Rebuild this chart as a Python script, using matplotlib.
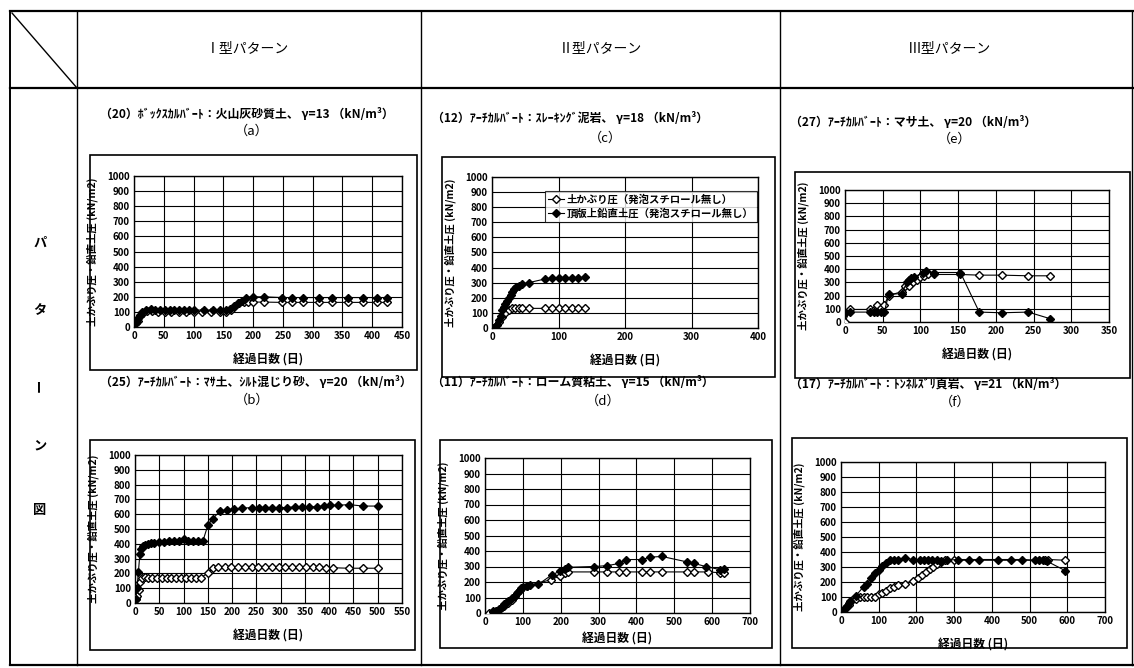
import matplotlib
matplotlib.use("Agg")
import matplotlib.pyplot as plt
from matplotlib.lines import Line2D
from matplotlib.patches import Rectangle

plt.rcParams['font.family'] = ['Noto Sans CJK JP', 'DejaVu Sans']

W, H = 1134, 668

### data ###
header_labels = ["Ⅰ型パターン", "Ⅱ型パターン", "Ⅲ型パターン"]
side_label = ["パ", "タ", "ー", "ン", "図"]
legend_labels = ["土かぶり圧（発泡スチロール無し）", "頂版上鉛直土圧（発泡スチロール無し）"]
ylabel_text = "土かぶり圧・鉛直土圧 (kN/m2)"
xlabel_text = "経過日数 (日)"

titles = {
    "a": "（20）ﾎﾞｯｸｽｶﾙﾊﾞｰﾄ：火山灰砂質土、 γ=13 （kN/m³）",
    "b": "（25）ｱｰﾁｶﾙﾊﾞｰﾄ：ﾏｻ土、ｼﾙﾄ混じり砂、 γ=20 （kN/m³）",
    "c": "（12）ｱｰﾁｶﾙﾊﾞｰﾄ：ｽﾚｰｷﾝｸﾞ泥岩、 γ=18 （kN/m³）",
    "d": "（11）ｱｰﾁｶﾙﾊﾞｰﾄ：ローム質粘土、 γ=15 （kN/m³）",
    "e": "（27）ｱｰﾁｶﾙﾊﾞｰﾄ：マサ土、 γ=20 （kN/m³）",
    "f": "（17）ｱｰﾁｶﾙﾊﾞｰﾄ：ﾄﾝﾈﾙｽﾞﾘ頁岩、 γ=21 （kN/m³）",
}
x_max = {"a": 450, "b": 550, "c": 400, "d": 700, "e": 350, "f": 700}
x_step = {"a": 50, "b": 50, "c": 100, "d": 100, "e": 50, "f": 100}

# (a)
a_load_x = [3, 5, 7, 10, 14, 20, 28, 36, 44, 52, 60, 68, 76, 84, 92, 100, 118, 132, 145, 155, 162, 168,
            175, 182, 188, 200, 218, 248, 266, 284, 310, 333, 360, 385, 408, 425]
a_load_y = [30, 45, 60, 80, 100, 115, 120, 115, 112, 110, 110, 112, 110, 110, 110, 112, 112, 110, 110, 112,
            118, 140, 160, 175, 195, 200, 200, 195, 195, 195, 195, 195, 195, 195, 195, 195]
a_cover_x = [3, 6, 10, 15, 22, 30, 40, 52, 62, 75, 88, 100, 115, 130, 145, 155, 163, 170, 177, 185, 192,
             200, 218, 248, 266, 284, 310, 333, 360, 385, 408, 425]
a_cover_y = [25, 40, 70, 95, 105, 105, 100, 100, 100, 100, 100, 100, 100, 100, 98, 100, 110, 140, 160, 165,
             165, 165, 165, 163, 163, 163, 163, 163, 163, 163, 163, 163]

# (b)
b_load_x = [2, 4, 7, 10, 13, 17, 21, 26, 32, 40, 50, 60, 70, 80, 90, 100, 110, 120, 130, 140, 150, 160,
            175, 190, 203, 220, 240, 255, 268, 282, 296, 313, 330, 344, 358, 375, 389, 402, 419, 440, 470, 500]
b_load_y = [30, 100, 210, 330, 365, 385, 395, 400, 405, 405, 410, 415, 420, 420, 420, 430, 420, 420, 420,
            420, 525, 570, 620, 630, 635, 640, 645, 645, 645, 645, 645, 645, 650, 650, 650, 650, 655, 660,
            660, 665, 655, 655]
b_cover_x = [2, 5, 8, 11, 15, 20, 27, 35, 45, 55, 65, 75, 85, 95, 105, 115, 125, 135, 150, 160, 172, 185,
             198, 212, 226, 240, 254, 268, 282, 296, 310, 324, 338, 352, 366, 380, 394, 408, 440, 470, 500]
b_cover_y = [30, 50, 90, 140, 170, 175, 172, 172, 172, 172, 172, 172, 172, 172, 172, 172, 172, 172, 200,
             235, 240, 240, 240, 240, 240, 240, 240, 240, 240, 240, 240, 240, 240, 240, 240, 240, 238, 238,
             235, 235, 235]

# (c)
c_load_x = [0, 5, 8, 10, 13, 15, 18, 20, 23, 25, 28, 30, 33, 36, 40, 45, 55, 80, 90, 100, 110, 120, 130, 140]
c_load_y = [0, 5, 20, 50, 80, 120, 140, 160, 180, 200, 220, 240, 255, 270, 280, 290, 300, 325, 330, 330,
            330, 330, 330, 335]
c_cover_x = [0, 5, 10, 15, 20, 25, 30, 35, 40, 45, 55, 80, 90, 100, 110, 120, 130, 140]
c_cover_y = [0, 5, 40, 70, 100, 120, 130, 130, 135, 130, 130, 130, 130, 130, 130, 130, 130, 130]

# (d)
d_load_x = [20, 30, 38, 45, 50, 55, 62, 70, 78, 85, 92, 100, 110, 118, 141, 176, 198, 211, 220, 287, 322,
            355, 373, 414, 436, 467, 533, 552, 583, 621, 631]
d_load_y = [10, 15, 25, 40, 55, 65, 80, 95, 110, 130, 150, 165, 175, 180, 185, 245, 270, 285, 295, 300,
            305, 320, 345, 345, 360, 365, 330, 320, 300, 280, 285]
d_cover_x = [10, 20, 30, 40, 50, 60, 70, 80, 88, 95, 110, 175, 198, 211, 220, 287, 322, 355, 373, 414,
             436, 467, 533, 552, 588, 621, 631]
d_cover_y = [0, 5, 15, 25, 45, 65, 85, 110, 135, 160, 175, 215, 240, 255, 265, 265, 265, 265, 265, 265,
             265, 265, 265, 265, 265, 260, 260]

# (e)
e_load_x = [0, 7, 33, 38, 43, 48, 52, 58, 75, 82, 85, 88, 92, 103, 107, 118, 153, 178, 208, 243, 272]
e_load_y = [70, 75, 75, 75, 75, 75, 75, 210, 215, 300, 320, 330, 340, 375, 385, 375, 375, 75, 70, 75, 25]
e_cover_x = [0, 7, 33, 38, 43, 48, 52, 58, 75, 80, 85, 90, 95, 100, 105, 110, 118, 153, 178, 208, 243, 272]
e_cover_y = [0, 95, 95, 90, 130, 105, 130, 200, 230, 270, 270, 300, 320, 340, 350, 360, 360, 360, 355,
             355, 350, 350]

# (f)
f_load_x = [0, 5, 10, 15, 20, 25, 40, 60, 70, 80, 90, 100, 110, 120, 130, 140, 150, 170, 190, 210, 220,
            230, 240, 255, 265, 280, 310, 340, 365, 415, 450, 480, 515, 525, 535, 545, 595]
f_load_y = [0, 10, 25, 40, 60, 75, 110, 170, 190, 230, 260, 280, 310, 330, 345, 350, 350, 360, 350, 350,
            345, 345, 345, 345, 340, 345, 350, 350, 350, 350, 350, 350, 345, 345, 345, 340, 275]
f_cover_x = [0, 10, 20, 30, 40, 50, 60, 70, 80, 90, 100, 110, 120, 130, 140, 150, 170, 190, 205, 215, 225,
             235, 245, 255, 265, 275, 300, 540, 550, 595]
f_cover_y = [0, 20, 50, 80, 90, 100, 100, 100, 100, 100, 120, 130, 140, 160, 170, 180, 190, 210, 230, 250,
             270, 285, 300, 320, 335, 345, 345, 345, 350, 345]

series = {
    "a": (a_cover_x, a_cover_y, a_load_x, a_load_y),
    "b": (b_cover_x, b_cover_y, b_load_x, b_load_y),
    "c": (c_cover_x, c_cover_y, c_load_x, c_load_y),
    "d": (d_cover_x, d_cover_y, d_load_x, d_load_y),
    "e": (e_cover_x, e_cover_y, e_load_x, e_load_y),
    "f": (f_cover_x, f_cover_y, f_load_x, f_load_y),
}

### layout (pixels) ###
# chart box (x0, y0, x1, y1), plot area (x0, y0, x1, y1), title pos, tag pos
layout = {
    "a": ((90, 155, 417, 370), (134, 176, 402, 327), (100, 114), (252, 131)),
    "b": ((90, 440, 415, 650), (135, 455, 402, 603), (100, 382), (252, 400)),
    "c": ((442, 157, 775, 377), (492, 177, 758, 328), (432, 118), (605, 138)),
    "d": ((440, 440, 772, 648), (485, 458, 750, 613), (432, 383), (603, 401)),
    "e": ((795, 172, 1130, 378), (845, 190, 1109, 322), (790, 122), (955, 139)),
    "f": ((792, 438, 1127, 648), (841, 462, 1105, 612), (790, 384), (955, 402)),
}


def fx(x):
    return x / W


def fy(y):
    return 1 - y / H


fig = plt.figure(figsize=(W / 100, H / 100), dpi=100)
fig.patch.set_facecolor("white")


def seg(x0, y0, x1, y1, lw=1.2):
    fig.add_artist(Line2D([fx(x0), fx(x1)], [fy(y0), fy(y1)], color="black", lw=lw))


# table grid
seg(10, 11, 1134, 11, 1.6)
seg(10, 88, 1134, 88, 1.6)
seg(10, 665, 1134, 665, 1.6)
seg(10, 11, 10, 665, 1.4)
seg(77, 11, 77, 665, 1.0)
seg(421, 11, 421, 665, 1.0)
seg(780, 11, 780, 665, 1.0)
seg(1132, 11, 1132, 665, 1.0)
seg(12, 13, 77, 88, 1.0)

for lbl, cx in zip(header_labels, [247, 600, 950]):
    fig.text(fx(cx), fy(48), lbl, ha="center", va="center", fontsize=10)

for ch, yy in zip(side_label, [243, 310, 385, 445, 510]):
    fig.text(fx(40), fy(yy), ch, ha="center", va="center", fontsize=9.5, fontweight="bold",
             rotation=90 if ch == "ー" else 0)

for key in ["a", "b", "c", "d", "e", "f"]:
    box, pa, tpos, gpos = layout[key]
    fig.add_artist(Rectangle((fx(box[0]), fy(box[3])), fx(box[2] - box[0]), (box[3] - box[1]) / H,
                             fill=False, edgecolor="black", lw=1.2))
    fig.text(fx(tpos[0]), fy(tpos[1]), titles[key], ha="left", va="center", fontsize=8.6, fontweight="bold")
    fig.text(fx(gpos[0]), fy(gpos[1]), "（" + key + "）", ha="center", va="center", fontsize=9.5)

    pw = pa[2] - pa[0]
    ph = pa[3] - pa[1]
    ax = fig.add_axes([fx(pa[0]), fy(pa[3]), pw / W, ph / H])
    cx, cy, lx, ly = series[key]
    ax.plot(cx, cy, color="black", lw=0.8, marker="D", ms=4.5, mfc="white", mec="black", mew=1.0,
            label=legend_labels[0], zorder=3)
    ax.plot(lx, ly, color="black", lw=0.8, marker="D", ms=4.5, mfc="black", mec="black",
            label=legend_labels[1], zorder=4)
    ax.set_xlim(0, x_max[key])
    ax.set_ylim(0, 1000)
    ax.set_xticks(range(0, x_max[key] + 1, x_step[key]))
    ax.set_yticks(range(0, 1001, 100))
    ax.grid(True, color="black", lw=0.8)
    ax.set_axisbelow(True)
    for sp in ax.spines.values():
        sp.set_linewidth(1.0)
    ax.tick_params(length=0, labelsize=7, pad=3)
    for t in ax.get_xticklabels() + ax.get_yticklabels():
        t.set_fontweight("bold")
    ax.set_ylabel(ylabel_text, fontsize=7.5, fontweight="bold")
    ax.yaxis.set_label_coords(-36 / pw, 0.5)
    ax.set_xlabel(xlabel_text, fontsize=8.5, fontweight="bold")
    xl_off = 20 if key == "d" else 27
    ax.xaxis.set_label_coords(0.5, -xl_off / ph)
    if key == "c":
        leg = ax.legend(loc="upper left", bbox_to_anchor=(0.18, 0.94), fontsize=7.5, frameon=True,
                        fancybox=False, edgecolor="black", handlelength=1.5, borderpad=0.3,
                        labelspacing=0.3, handletextpad=0.3)
        leg.get_frame().set_linewidth(0.8)
        for t in leg.get_texts():
            t.set_fontweight("bold")

fig.savefig("out.png", dpi=100)
